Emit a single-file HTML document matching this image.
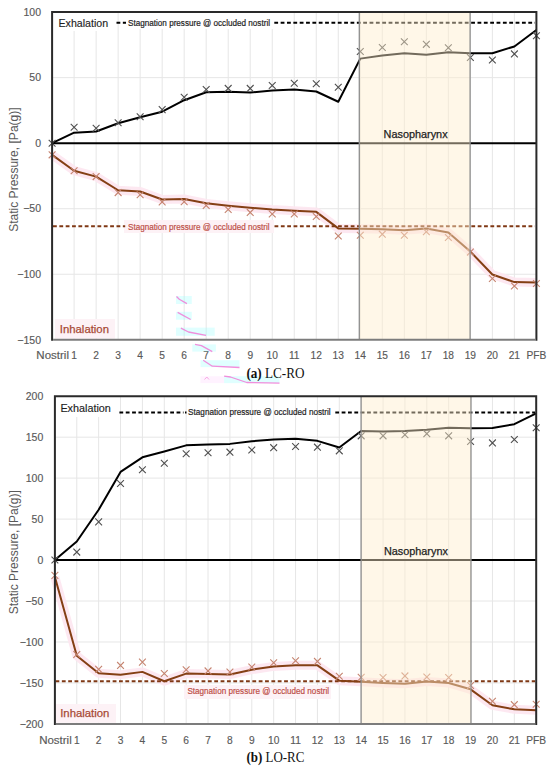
<!DOCTYPE html><html><head><meta charset="utf-8"><style>html,body{margin:0;padding:0;background:#fff;}svg{display:block;}</style></head><body>
<svg width="550" height="769" viewBox="0 0 550 769">
<rect width="550" height="769" fill="#fff"/>
<line x1="74.11" y1="12.1" x2="74.11" y2="339.8" stroke="#e6e6e6" stroke-width="1"/>
<line x1="96.13" y1="12.1" x2="96.13" y2="339.8" stroke="#e6e6e6" stroke-width="1"/>
<line x1="118.14" y1="12.1" x2="118.14" y2="339.8" stroke="#e6e6e6" stroke-width="1"/>
<line x1="140.15" y1="12.1" x2="140.15" y2="339.8" stroke="#e6e6e6" stroke-width="1"/>
<line x1="162.17" y1="12.1" x2="162.17" y2="339.8" stroke="#e6e6e6" stroke-width="1"/>
<line x1="184.18" y1="12.1" x2="184.18" y2="339.8" stroke="#e6e6e6" stroke-width="1"/>
<line x1="206.2" y1="12.1" x2="206.2" y2="339.8" stroke="#e6e6e6" stroke-width="1"/>
<line x1="228.21" y1="12.1" x2="228.21" y2="339.8" stroke="#e6e6e6" stroke-width="1"/>
<line x1="250.22" y1="12.1" x2="250.22" y2="339.8" stroke="#e6e6e6" stroke-width="1"/>
<line x1="272.24" y1="12.1" x2="272.24" y2="339.8" stroke="#e6e6e6" stroke-width="1"/>
<line x1="294.25" y1="12.1" x2="294.25" y2="339.8" stroke="#e6e6e6" stroke-width="1"/>
<line x1="316.26" y1="12.1" x2="316.26" y2="339.8" stroke="#e6e6e6" stroke-width="1"/>
<line x1="338.28" y1="12.1" x2="338.28" y2="339.8" stroke="#e6e6e6" stroke-width="1"/>
<line x1="360.29" y1="12.1" x2="360.29" y2="339.8" stroke="#e6e6e6" stroke-width="1"/>
<line x1="382.3" y1="12.1" x2="382.3" y2="339.8" stroke="#e6e6e6" stroke-width="1"/>
<line x1="404.32" y1="12.1" x2="404.32" y2="339.8" stroke="#e6e6e6" stroke-width="1"/>
<line x1="426.33" y1="12.1" x2="426.33" y2="339.8" stroke="#e6e6e6" stroke-width="1"/>
<line x1="448.35" y1="12.1" x2="448.35" y2="339.8" stroke="#e6e6e6" stroke-width="1"/>
<line x1="470.36" y1="12.1" x2="470.36" y2="339.8" stroke="#e6e6e6" stroke-width="1"/>
<line x1="492.37" y1="12.1" x2="492.37" y2="339.8" stroke="#e6e6e6" stroke-width="1"/>
<line x1="514.39" y1="12.1" x2="514.39" y2="339.8" stroke="#e6e6e6" stroke-width="1"/>
<line x1="52.1" y1="77.64" x2="536.4" y2="77.64" stroke="#e6e6e6" stroke-width="1"/>
<line x1="52.1" y1="208.72" x2="536.4" y2="208.72" stroke="#e6e6e6" stroke-width="1"/>
<line x1="52.1" y1="274.26" x2="536.4" y2="274.26" stroke="#e6e6e6" stroke-width="1"/>
<rect x="53" y="13" width="62" height="18" fill="#fff"/>
<rect x="126" y="13" width="147" height="16" fill="#fff"/>
<rect x="124" y="220" width="150" height="13" fill="#fdf2f6"/>
<rect x="55" y="319" width="60" height="19.6" fill="#fdf2f6"/>
<polyline points="52.1,154.85 74.11,170.71 96.13,176.61 118.14,190.24 140.15,191.55 162.17,199.54 184.18,199.02 206.2,203.35 228.21,205.71 250.22,207.8 272.24,209.51 294.25,210.69 316.26,211.87 338.28,228.38 360.29,228.64 382.3,229.17 404.32,230.22 426.33,228.51 448.35,232.58 470.36,251.58 492.37,274.52 514.39,282.12 536.4,282.52" fill="none" stroke="#fde6ef" stroke-width="9" stroke-linejoin="round" stroke-linecap="butt" opacity="0.9"/>
<line x1="52.1" y1="143.18" x2="536.4" y2="143.18" stroke="#000" stroke-width="2"/>
<line x1="116.5" y1="22.85" x2="126" y2="22.85" stroke="#000" stroke-width="2" stroke-dasharray="3.8 2.55"/>
<line x1="274.3" y1="22.85" x2="535" y2="22.85" stroke="#000" stroke-width="2" stroke-dasharray="3.8 2.55"/>
<line x1="53" y1="226.28" x2="125.2" y2="226.28" stroke="#7f3814" stroke-width="2" stroke-dasharray="3.8 2.55"/>
<line x1="274.5" y1="226.28" x2="535" y2="226.28" stroke="#7f3814" stroke-width="2" stroke-dasharray="3.8 2.55"/>
<polyline points="52.1,143.18 74.11,132.69 96.13,131.51 118.14,123.26 140.15,117.23 162.17,111.72 184.18,100.19 206.2,92.19 228.21,91.8 250.22,92.58 272.24,90.49 294.25,89.44 316.26,91.53 338.28,101.76 360.29,58.63 382.3,55.49 404.32,53.26 426.33,54.83 448.35,52.21 470.36,53.26 492.37,53.26 514.39,46.44 536.4,29.93" fill="none" stroke="#000" stroke-width="2.0" stroke-linejoin="round" stroke-linecap="butt" />
<path d="M48.7 139.78L55.5 146.58M48.7 146.58L55.5 139.78" stroke="#4f4f4f" stroke-width="1.1" fill="none"/>
<path d="M70.71 123.79L77.51 130.59M70.71 130.59L77.51 123.79" stroke="#4f4f4f" stroke-width="1.1" fill="none"/>
<path d="M92.73 124.84L99.53 131.64M92.73 131.64L99.53 124.84" stroke="#4f4f4f" stroke-width="1.1" fill="none"/>
<path d="M114.74 119.33L121.54 126.13M114.74 126.13L121.54 119.33" stroke="#4f4f4f" stroke-width="1.1" fill="none"/>
<path d="M136.75 113.3L143.55 120.1M136.75 120.1L143.55 113.3" stroke="#4f4f4f" stroke-width="1.1" fill="none"/>
<path d="M158.77 106.22L165.57 113.02M158.77 113.02L165.57 106.22" stroke="#4f4f4f" stroke-width="1.1" fill="none"/>
<path d="M180.78 93.9L187.58 100.7M180.78 100.7L187.58 93.9" stroke="#4f4f4f" stroke-width="1.1" fill="none"/>
<path d="M202.8 86.04L209.6 92.84M202.8 92.84L209.6 86.04" stroke="#4f4f4f" stroke-width="1.1" fill="none"/>
<path d="M224.81 84.99L231.61 91.79M224.81 91.79L231.61 84.99" stroke="#4f4f4f" stroke-width="1.1" fill="none"/>
<path d="M246.82 84.99L253.62 91.79M246.82 91.79L253.62 84.99" stroke="#4f4f4f" stroke-width="1.1" fill="none"/>
<path d="M268.84 82.1L275.64 88.9M268.84 88.9L275.64 82.1" stroke="#4f4f4f" stroke-width="1.1" fill="none"/>
<path d="M290.85 79.88L297.65 86.68M290.85 86.68L297.65 79.88" stroke="#4f4f4f" stroke-width="1.1" fill="none"/>
<path d="M312.86 80.27L319.66 87.07M312.86 87.07L319.66 80.27" stroke="#4f4f4f" stroke-width="1.1" fill="none"/>
<path d="M334.88 83.81L341.68 90.61M334.88 90.61L341.68 83.81" stroke="#4f4f4f" stroke-width="1.1" fill="none"/>
<path d="M356.89 48.02L363.69 54.82M356.89 54.82L363.69 48.02" stroke="#4f4f4f" stroke-width="1.1" fill="none"/>
<path d="M378.9 44.09L385.7 50.89M378.9 50.89L385.7 44.09" stroke="#4f4f4f" stroke-width="1.1" fill="none"/>
<path d="M400.92 38.32L407.72 45.12M400.92 45.12L407.72 38.32" stroke="#4f4f4f" stroke-width="1.1" fill="none"/>
<path d="M422.93 40.95L429.73 47.75M422.93 47.75L429.73 40.95" stroke="#4f4f4f" stroke-width="1.1" fill="none"/>
<path d="M444.95 44.35L451.75 51.15M444.95 51.15L451.75 44.35" stroke="#4f4f4f" stroke-width="1.1" fill="none"/>
<path d="M466.96 54.18L473.76 60.98M466.96 60.98L473.76 54.18" stroke="#4f4f4f" stroke-width="1.1" fill="none"/>
<path d="M488.97 56.54L495.77 63.34M488.97 63.34L495.77 56.54" stroke="#4f4f4f" stroke-width="1.1" fill="none"/>
<path d="M510.99 50.51L517.79 57.31M510.99 57.31L517.79 50.51" stroke="#4f4f4f" stroke-width="1.1" fill="none"/>
<path d="M533 32.43L539.8 39.23M533 39.23L539.8 32.43" stroke="#4f4f4f" stroke-width="1.1" fill="none"/>
<polyline points="52.1,154.85 74.11,170.71 96.13,176.61 118.14,190.24 140.15,191.55 162.17,199.54 184.18,199.02 206.2,203.35 228.21,205.71 250.22,207.8 272.24,209.51 294.25,210.69 316.26,211.87 338.28,228.38 360.29,228.64 382.3,229.17 404.32,230.22 426.33,228.51 448.35,232.58 470.36,251.58 492.37,274.52 514.39,282.12 536.4,282.52" fill="none" stroke="#843f14" stroke-width="2.0" stroke-linejoin="round" stroke-linecap="butt" />
<path d="M48.7 151.45L55.5 158.25M48.7 158.25L55.5 151.45" stroke="#c58470" stroke-width="1.1" fill="none"/>
<path d="M70.71 167.31L77.51 174.11M70.71 174.11L77.51 167.31" stroke="#c58470" stroke-width="1.1" fill="none"/>
<path d="M92.73 173.21L99.53 180.01M92.73 180.01L99.53 173.21" stroke="#c58470" stroke-width="1.1" fill="none"/>
<path d="M114.74 189.2L121.54 196M114.74 196L121.54 189.2" stroke="#c58470" stroke-width="1.1" fill="none"/>
<path d="M136.75 191.29L143.55 198.09M136.75 198.09L143.55 191.29" stroke="#c58470" stroke-width="1.1" fill="none"/>
<path d="M158.77 198.5L165.57 205.3M158.77 205.3L165.57 198.5" stroke="#c58470" stroke-width="1.1" fill="none"/>
<path d="M180.78 198.37L187.58 205.17M180.78 205.17L187.58 198.37" stroke="#c58470" stroke-width="1.1" fill="none"/>
<path d="M202.8 202.17L209.6 208.97M202.8 208.97L209.6 202.17" stroke="#c58470" stroke-width="1.1" fill="none"/>
<path d="M224.81 206.11L231.61 212.91M224.81 212.91L231.61 206.11" stroke="#c58470" stroke-width="1.1" fill="none"/>
<path d="M246.82 208.99L253.62 215.79M246.82 215.79L253.62 208.99" stroke="#c58470" stroke-width="1.1" fill="none"/>
<path d="M268.84 210.56L275.64 217.36M268.84 217.36L275.64 210.56" stroke="#c58470" stroke-width="1.1" fill="none"/>
<path d="M290.85 210.56L297.65 217.36M290.85 217.36L297.65 210.56" stroke="#c58470" stroke-width="1.1" fill="none"/>
<path d="M312.86 213.18L319.66 219.98M312.86 219.98L319.66 213.18" stroke="#c58470" stroke-width="1.1" fill="none"/>
<path d="M334.88 232.58L341.68 239.38M334.88 239.38L341.68 232.58" stroke="#c58470" stroke-width="1.1" fill="none"/>
<path d="M356.89 231.8L363.69 238.6M356.89 238.6L363.69 231.8" stroke="#c58470" stroke-width="1.1" fill="none"/>
<path d="M378.9 230.75L385.7 237.55M378.9 237.55L385.7 230.75" stroke="#c58470" stroke-width="1.1" fill="none"/>
<path d="M400.92 231.8L407.72 238.6M400.92 238.6L407.72 231.8" stroke="#c58470" stroke-width="1.1" fill="none"/>
<path d="M422.93 228.39L429.73 235.19M422.93 235.19L429.73 228.39" stroke="#c58470" stroke-width="1.1" fill="none"/>
<path d="M444.95 234.03L451.75 240.83M444.95 240.83L451.75 234.03" stroke="#c58470" stroke-width="1.1" fill="none"/>
<path d="M466.96 248.71L473.76 255.51M466.96 255.51L473.76 248.71" stroke="#c58470" stroke-width="1.1" fill="none"/>
<path d="M488.97 275.05L495.77 281.85M488.97 281.85L495.77 275.05" stroke="#c58470" stroke-width="1.1" fill="none"/>
<path d="M510.99 282.66L517.79 289.46M510.99 289.46L517.79 282.66" stroke="#c58470" stroke-width="1.1" fill="none"/>
<path d="M533 280.04L539.8 286.84M533 286.84L539.8 280.04" stroke="#c58470" stroke-width="1.1" fill="none"/>
<rect x="359.3" y="12.1" width="110.8" height="327.7" fill="#ffeecc" fill-opacity="0.45"/>
<line x1="359.3" y1="12.1" x2="359.3" y2="339.8" stroke="#8e8e8e" stroke-width="1.3"/>
<line x1="470.1" y1="12.1" x2="470.1" y2="339.8" stroke="#8e8e8e" stroke-width="1.3"/>
<path d="M52.1 339.8V12.1H536.4V339.8" fill="none" stroke="#2a2a2a" stroke-width="2" stroke-linecap="square"/>
<line x1="53.1" y1="339.8" x2="535.4" y2="339.8" stroke="#7c7c7c" stroke-width="2"/>
<text x="58.5" y="27.1" font-family='"Liberation Sans", sans-serif' font-size="11.2" fill="#1e1e1e" text-anchor="start" stroke="#1e1e1e" stroke-width="0.15" textLength="49.6" lengthAdjust="spacingAndGlyphs" >Exhalation</text>
<text x="128" y="25.6" font-family='"Liberation Sans", sans-serif' font-size="8.9" fill="#1e1e1e" text-anchor="start" stroke="#1e1e1e" stroke-width="0.2" textLength="142" lengthAdjust="spacingAndGlyphs" >Stagnation pressure @ occluded nostril</text>
<text x="128" y="230.2" font-family='"Liberation Sans", sans-serif' font-size="8.9" fill="#bd4f48" text-anchor="start" stroke="#bd4f48" stroke-width="0.2" textLength="141.6" lengthAdjust="spacingAndGlyphs" >Stagnation pressure @ occluded nostril</text>
<text x="59.8" y="333.3" font-family='"Liberation Sans", sans-serif' font-size="11.2" fill="#a84a35" text-anchor="start" stroke="#a84a35" stroke-width="0.25" textLength="49.2" lengthAdjust="spacingAndGlyphs" >Inhalation</text>
<text x="383.6" y="138.3" font-family='"Liberation Sans", sans-serif' font-size="10.4" fill="#1e1e1e" text-anchor="start" stroke="#1e1e1e" stroke-width="0.25" textLength="64" lengthAdjust="spacingAndGlyphs" >Nasopharynx</text>
<text x="41" y="15.8" font-family='"Liberation Sans", sans-serif' font-size="10.5" fill="#595959" text-anchor="end" stroke="#595959" stroke-width="0.15" >100</text>
<text x="41" y="81.34" font-family='"Liberation Sans", sans-serif' font-size="10.5" fill="#595959" text-anchor="end" stroke="#595959" stroke-width="0.15" >50</text>
<text x="41" y="146.88" font-family='"Liberation Sans", sans-serif' font-size="10.5" fill="#595959" text-anchor="end" stroke="#595959" stroke-width="0.15" >0</text>
<text x="41" y="212.42" font-family='"Liberation Sans", sans-serif' font-size="10.5" fill="#595959" text-anchor="end" stroke="#595959" stroke-width="0.15" >−50</text>
<text x="41" y="277.96" font-family='"Liberation Sans", sans-serif' font-size="10.5" fill="#595959" text-anchor="end" stroke="#595959" stroke-width="0.15" >−100</text>
<text x="41" y="343.5" font-family='"Liberation Sans", sans-serif' font-size="10.5" fill="#595959" text-anchor="end" stroke="#595959" stroke-width="0.15" >−150</text>
<text x="52.65" y="359.3" font-family='"Liberation Sans", sans-serif' font-size="10.2" fill="#595959" text-anchor="middle" stroke="#595959" stroke-width="0.15" textLength="32.6" lengthAdjust="spacingAndGlyphs" >Nostril</text>
<text x="74.11" y="359.3" font-family='"Liberation Sans", sans-serif' font-size="10.2" fill="#595959" text-anchor="middle" stroke="#595959" stroke-width="0.15" >1</text>
<text x="96.13" y="359.3" font-family='"Liberation Sans", sans-serif' font-size="10.2" fill="#595959" text-anchor="middle" stroke="#595959" stroke-width="0.15" >2</text>
<text x="118.14" y="359.3" font-family='"Liberation Sans", sans-serif' font-size="10.2" fill="#595959" text-anchor="middle" stroke="#595959" stroke-width="0.15" >3</text>
<text x="140.15" y="359.3" font-family='"Liberation Sans", sans-serif' font-size="10.2" fill="#595959" text-anchor="middle" stroke="#595959" stroke-width="0.15" >4</text>
<text x="162.17" y="359.3" font-family='"Liberation Sans", sans-serif' font-size="10.2" fill="#595959" text-anchor="middle" stroke="#595959" stroke-width="0.15" >5</text>
<text x="184.18" y="359.3" font-family='"Liberation Sans", sans-serif' font-size="10.2" fill="#595959" text-anchor="middle" stroke="#595959" stroke-width="0.15" >6</text>
<text x="206.2" y="359.3" font-family='"Liberation Sans", sans-serif' font-size="10.2" fill="#595959" text-anchor="middle" stroke="#595959" stroke-width="0.15" >7</text>
<text x="228.21" y="359.3" font-family='"Liberation Sans", sans-serif' font-size="10.2" fill="#595959" text-anchor="middle" stroke="#595959" stroke-width="0.15" >8</text>
<text x="250.22" y="359.3" font-family='"Liberation Sans", sans-serif' font-size="10.2" fill="#595959" text-anchor="middle" stroke="#595959" stroke-width="0.15" >9</text>
<text x="272.24" y="359.3" font-family='"Liberation Sans", sans-serif' font-size="10.2" fill="#595959" text-anchor="middle" stroke="#595959" stroke-width="0.15" >10</text>
<text x="294.25" y="359.3" font-family='"Liberation Sans", sans-serif' font-size="10.2" fill="#595959" text-anchor="middle" stroke="#595959" stroke-width="0.15" >11</text>
<text x="316.26" y="359.3" font-family='"Liberation Sans", sans-serif' font-size="10.2" fill="#595959" text-anchor="middle" stroke="#595959" stroke-width="0.15" >12</text>
<text x="338.28" y="359.3" font-family='"Liberation Sans", sans-serif' font-size="10.2" fill="#595959" text-anchor="middle" stroke="#595959" stroke-width="0.15" >13</text>
<text x="360.29" y="359.3" font-family='"Liberation Sans", sans-serif' font-size="10.2" fill="#595959" text-anchor="middle" stroke="#595959" stroke-width="0.15" >14</text>
<text x="382.3" y="359.3" font-family='"Liberation Sans", sans-serif' font-size="10.2" fill="#595959" text-anchor="middle" stroke="#595959" stroke-width="0.15" >15</text>
<text x="404.32" y="359.3" font-family='"Liberation Sans", sans-serif' font-size="10.2" fill="#595959" text-anchor="middle" stroke="#595959" stroke-width="0.15" >16</text>
<text x="426.33" y="359.3" font-family='"Liberation Sans", sans-serif' font-size="10.2" fill="#595959" text-anchor="middle" stroke="#595959" stroke-width="0.15" >17</text>
<text x="448.35" y="359.3" font-family='"Liberation Sans", sans-serif' font-size="10.2" fill="#595959" text-anchor="middle" stroke="#595959" stroke-width="0.15" >18</text>
<text x="470.36" y="359.3" font-family='"Liberation Sans", sans-serif' font-size="10.2" fill="#595959" text-anchor="middle" stroke="#595959" stroke-width="0.15" >19</text>
<text x="492.37" y="359.3" font-family='"Liberation Sans", sans-serif' font-size="10.2" fill="#595959" text-anchor="middle" stroke="#595959" stroke-width="0.15" >20</text>
<text x="514.39" y="359.3" font-family='"Liberation Sans", sans-serif' font-size="10.2" fill="#595959" text-anchor="middle" stroke="#595959" stroke-width="0.15" >21</text>
<text x="536.4" y="359.3" font-family='"Liberation Sans", sans-serif' font-size="10.2" fill="#595959" text-anchor="middle" stroke="#595959" stroke-width="0.15" >PFB</text>
<text x="0" y="0" transform="translate(18.4 169.6) rotate(-90)" font-family='"Liberation Sans", sans-serif' font-size="12.2" fill="#595959" text-anchor="middle" textLength="124.5" lengthAdjust="spacingAndGlyphs">Static Pressure, [Pa(g)]</text>
<line x1="76.78" y1="396.2" x2="76.78" y2="723.9" stroke="#e6e6e6" stroke-width="1"/>
<line x1="98.65" y1="396.2" x2="98.65" y2="723.9" stroke="#e6e6e6" stroke-width="1"/>
<line x1="120.53" y1="396.2" x2="120.53" y2="723.9" stroke="#e6e6e6" stroke-width="1"/>
<line x1="142.41" y1="396.2" x2="142.41" y2="723.9" stroke="#e6e6e6" stroke-width="1"/>
<line x1="164.29" y1="396.2" x2="164.29" y2="723.9" stroke="#e6e6e6" stroke-width="1"/>
<line x1="186.16" y1="396.2" x2="186.16" y2="723.9" stroke="#e6e6e6" stroke-width="1"/>
<line x1="208.04" y1="396.2" x2="208.04" y2="723.9" stroke="#e6e6e6" stroke-width="1"/>
<line x1="229.92" y1="396.2" x2="229.92" y2="723.9" stroke="#e6e6e6" stroke-width="1"/>
<line x1="251.8" y1="396.2" x2="251.8" y2="723.9" stroke="#e6e6e6" stroke-width="1"/>
<line x1="273.67" y1="396.2" x2="273.67" y2="723.9" stroke="#e6e6e6" stroke-width="1"/>
<line x1="295.55" y1="396.2" x2="295.55" y2="723.9" stroke="#e6e6e6" stroke-width="1"/>
<line x1="317.43" y1="396.2" x2="317.43" y2="723.9" stroke="#e6e6e6" stroke-width="1"/>
<line x1="339.3" y1="396.2" x2="339.3" y2="723.9" stroke="#e6e6e6" stroke-width="1"/>
<line x1="361.18" y1="396.2" x2="361.18" y2="723.9" stroke="#e6e6e6" stroke-width="1"/>
<line x1="383.06" y1="396.2" x2="383.06" y2="723.9" stroke="#e6e6e6" stroke-width="1"/>
<line x1="404.94" y1="396.2" x2="404.94" y2="723.9" stroke="#e6e6e6" stroke-width="1"/>
<line x1="426.81" y1="396.2" x2="426.81" y2="723.9" stroke="#e6e6e6" stroke-width="1"/>
<line x1="448.69" y1="396.2" x2="448.69" y2="723.9" stroke="#e6e6e6" stroke-width="1"/>
<line x1="470.57" y1="396.2" x2="470.57" y2="723.9" stroke="#e6e6e6" stroke-width="1"/>
<line x1="492.45" y1="396.2" x2="492.45" y2="723.9" stroke="#e6e6e6" stroke-width="1"/>
<line x1="514.32" y1="396.2" x2="514.32" y2="723.9" stroke="#e6e6e6" stroke-width="1"/>
<line x1="54.9" y1="437.16" x2="536.2" y2="437.16" stroke="#e6e6e6" stroke-width="1"/>
<line x1="54.9" y1="478.12" x2="536.2" y2="478.12" stroke="#e6e6e6" stroke-width="1"/>
<line x1="54.9" y1="519.09" x2="536.2" y2="519.09" stroke="#e6e6e6" stroke-width="1"/>
<line x1="54.9" y1="601.01" x2="536.2" y2="601.01" stroke="#e6e6e6" stroke-width="1"/>
<line x1="54.9" y1="641.98" x2="536.2" y2="641.98" stroke="#e6e6e6" stroke-width="1"/>
<line x1="54.9" y1="682.94" x2="536.2" y2="682.94" stroke="#e6e6e6" stroke-width="1"/>
<rect x="56" y="397" width="60" height="20" fill="#fff"/>
<rect x="184" y="685" width="147" height="14" fill="#fdf2f6"/>
<rect x="56" y="704" width="60" height="18.8" fill="#fdf2f6"/>
<polyline points="54.9,577.09 76.78,655.82 98.65,673.19 120.53,674.75 142.41,671.88 164.29,681.22 186.16,673.6 208.04,674.01 229.92,674.5 251.8,669.67 273.67,666.39 295.55,665.32 317.43,665.32 339.3,680.64 361.18,681.79 383.06,682.94 404.94,683.67 426.81,681.46 448.69,682.94 470.57,689.33 492.45,705.3 514.32,709.32 536.2,710.3" fill="none" stroke="#fde6ef" stroke-width="9" stroke-linejoin="round" stroke-linecap="butt" opacity="0.9"/>
<line x1="54.9" y1="560.05" x2="536.2" y2="560.05" stroke="#000" stroke-width="2"/>
<line x1="119.4" y1="412.58" x2="183.5" y2="412.58" stroke="#000" stroke-width="2" stroke-dasharray="3.8 2.55"/>
<line x1="185" y1="412.58" x2="186.5" y2="412.58" stroke="#000" stroke-width="2" stroke-dasharray="3.8 2.55"/>
<line x1="335.3" y1="412.58" x2="535" y2="412.58" stroke="#000" stroke-width="2" stroke-dasharray="3.8 2.55"/>
<line x1="55.5" y1="681.3" x2="535" y2="681.3" stroke="#7f3814" stroke-width="2" stroke-dasharray="3.8 2.55"/>
<polyline points="54.9,560.05 76.78,541.45 98.65,509.75 120.53,471.9 142.41,457.32 164.29,451.58 186.16,445.36 208.04,444.54 229.92,443.88 251.8,441.26 273.67,439.54 295.55,438.64 317.43,440.85 339.3,447.49 361.18,431.02 383.06,431.43 404.94,431.02 426.81,429.79 448.69,427.74 470.57,428.23 492.45,427.99 514.32,424.22 536.2,413.4" fill="none" stroke="#000" stroke-width="2.0" stroke-linejoin="round" stroke-linecap="butt" />
<path d="M51.5 556.65L58.3 563.45M51.5 563.45L58.3 556.65" stroke="#4f4f4f" stroke-width="1.1" fill="none"/>
<path d="M73.38 548.7L80.18 555.5M73.38 555.5L80.18 548.7" stroke="#4f4f4f" stroke-width="1.1" fill="none"/>
<path d="M95.25 518.47L102.05 525.27M95.25 525.27L102.05 518.47" stroke="#4f4f4f" stroke-width="1.1" fill="none"/>
<path d="M117.13 480.13L123.93 486.93M117.13 486.93L123.93 480.13" stroke="#4f4f4f" stroke-width="1.1" fill="none"/>
<path d="M139.01 466.37L145.81 473.17M139.01 473.17L145.81 466.37" stroke="#4f4f4f" stroke-width="1.1" fill="none"/>
<path d="M160.89 459.81L167.69 466.61M160.89 466.61L167.69 459.81" stroke="#4f4f4f" stroke-width="1.1" fill="none"/>
<path d="M182.76 450.39L189.56 457.19M182.76 457.19L189.56 450.39" stroke="#4f4f4f" stroke-width="1.1" fill="none"/>
<path d="M204.64 449.41L211.44 456.21M204.64 456.21L211.44 449.41" stroke="#4f4f4f" stroke-width="1.1" fill="none"/>
<path d="M226.52 448.75L233.32 455.55M226.52 455.55L233.32 448.75" stroke="#4f4f4f" stroke-width="1.1" fill="none"/>
<path d="M248.4 446.54L255.2 453.34M248.4 453.34L255.2 446.54" stroke="#4f4f4f" stroke-width="1.1" fill="none"/>
<path d="M270.27 444.25L277.07 451.05M270.27 451.05L277.07 444.25" stroke="#4f4f4f" stroke-width="1.1" fill="none"/>
<path d="M292.15 443.1L298.95 449.9M292.15 449.9L298.95 443.1" stroke="#4f4f4f" stroke-width="1.1" fill="none"/>
<path d="M314.03 443.76L320.83 450.56M314.03 450.56L320.83 443.76" stroke="#4f4f4f" stroke-width="1.1" fill="none"/>
<path d="M335.9 447.44L342.7 454.24M335.9 454.24L342.7 447.44" stroke="#4f4f4f" stroke-width="1.1" fill="none"/>
<path d="M357.78 432.45L364.58 439.25M357.78 439.25L364.58 432.45" stroke="#4f4f4f" stroke-width="1.1" fill="none"/>
<path d="M379.66 432.45L386.46 439.25M379.66 439.25L386.46 432.45" stroke="#4f4f4f" stroke-width="1.1" fill="none"/>
<path d="M401.54 431.39L408.34 438.19M401.54 438.19L408.34 431.39" stroke="#4f4f4f" stroke-width="1.1" fill="none"/>
<path d="M423.41 430.24L430.21 437.04M423.41 437.04L430.21 430.24" stroke="#4f4f4f" stroke-width="1.1" fill="none"/>
<path d="M445.29 432.45L452.09 439.25M445.29 439.25L452.09 432.45" stroke="#4f4f4f" stroke-width="1.1" fill="none"/>
<path d="M467.17 438.02L473.97 444.82M467.17 444.82L473.97 438.02" stroke="#4f4f4f" stroke-width="1.1" fill="none"/>
<path d="M489.05 439.5L495.85 446.3M489.05 446.3L495.85 439.5" stroke="#4f4f4f" stroke-width="1.1" fill="none"/>
<path d="M510.92 436.06L517.72 442.86M510.92 442.86L517.72 436.06" stroke="#4f4f4f" stroke-width="1.1" fill="none"/>
<path d="M532.8 424.42L539.6 431.22M532.8 431.22L539.6 424.42" stroke="#4f4f4f" stroke-width="1.1" fill="none"/>
<polyline points="54.9,577.09 76.78,655.82 98.65,673.19 120.53,674.75 142.41,671.88 164.29,681.22 186.16,673.6 208.04,674.01 229.92,674.5 251.8,669.67 273.67,666.39 295.55,665.32 317.43,665.32 339.3,680.64 361.18,681.79 383.06,682.94 404.94,683.67 426.81,681.46 448.69,682.94 470.57,689.33 492.45,705.3 514.32,709.32 536.2,710.3" fill="none" stroke="#843f14" stroke-width="2.0" stroke-linejoin="round" stroke-linecap="butt" />
<path d="M51.5 571.97L58.3 578.77M51.5 578.77L58.3 571.97" stroke="#c58470" stroke-width="1.1" fill="none"/>
<path d="M73.38 651.11L80.18 657.91M73.38 657.91L80.18 651.11" stroke="#c58470" stroke-width="1.1" fill="none"/>
<path d="M95.25 665.94L102.05 672.74M95.25 672.74L102.05 665.94" stroke="#c58470" stroke-width="1.1" fill="none"/>
<path d="M117.13 662.01L123.93 668.81M117.13 668.81L123.93 662.01" stroke="#c58470" stroke-width="1.1" fill="none"/>
<path d="M139.01 658.73L145.81 665.53M139.01 665.53L145.81 658.73" stroke="#c58470" stroke-width="1.1" fill="none"/>
<path d="M160.89 670.03L167.69 676.83M160.89 676.83L167.69 670.03" stroke="#c58470" stroke-width="1.1" fill="none"/>
<path d="M182.76 666.43L189.56 673.23M182.76 673.23L189.56 666.43" stroke="#c58470" stroke-width="1.1" fill="none"/>
<path d="M204.64 667.49L211.44 674.29M204.64 674.29L211.44 667.49" stroke="#c58470" stroke-width="1.1" fill="none"/>
<path d="M226.52 668.64L233.32 675.44M226.52 675.44L233.32 668.64" stroke="#c58470" stroke-width="1.1" fill="none"/>
<path d="M248.4 663.56L255.2 670.36M248.4 670.36L255.2 663.56" stroke="#c58470" stroke-width="1.1" fill="none"/>
<path d="M270.27 659.3L277.07 666.1M270.27 666.1L277.07 659.3" stroke="#c58470" stroke-width="1.1" fill="none"/>
<path d="M292.15 657.42L298.95 664.22M292.15 664.22L298.95 657.42" stroke="#c58470" stroke-width="1.1" fill="none"/>
<path d="M314.03 657.99L320.83 664.79M314.03 664.79L320.83 657.99" stroke="#c58470" stroke-width="1.1" fill="none"/>
<path d="M335.9 672.82L342.7 679.62M335.9 679.62L342.7 672.82" stroke="#c58470" stroke-width="1.1" fill="none"/>
<path d="M357.78 673.97L364.58 680.77M357.78 680.77L364.58 673.97" stroke="#c58470" stroke-width="1.1" fill="none"/>
<path d="M379.66 674.13L386.46 680.93M379.66 680.93L386.46 674.13" stroke="#c58470" stroke-width="1.1" fill="none"/>
<path d="M401.54 672.49L408.34 679.29M401.54 679.29L408.34 672.49" stroke="#c58470" stroke-width="1.1" fill="none"/>
<path d="M423.41 673.64L430.21 680.44M423.41 680.44L430.21 673.64" stroke="#c58470" stroke-width="1.1" fill="none"/>
<path d="M445.29 674.13L452.09 680.93M445.29 680.93L452.09 674.13" stroke="#c58470" stroke-width="1.1" fill="none"/>
<path d="M467.17 682.08L473.97 688.88M467.17 688.88L473.97 682.08" stroke="#c58470" stroke-width="1.1" fill="none"/>
<path d="M489.05 697.89L495.85 704.69M489.05 704.69L495.85 697.89" stroke="#c58470" stroke-width="1.1" fill="none"/>
<path d="M510.92 701.25L517.72 708.05M510.92 708.05L517.72 701.25" stroke="#c58470" stroke-width="1.1" fill="none"/>
<path d="M532.8 700.84L539.6 707.64M532.8 707.64L539.6 700.84" stroke="#c58470" stroke-width="1.1" fill="none"/>
<rect x="361.1" y="396.2" width="109.9" height="327.7" fill="#ffeecc" fill-opacity="0.45"/>
<line x1="361.1" y1="396.2" x2="361.1" y2="723.9" stroke="#8e8e8e" stroke-width="1.3"/>
<line x1="471" y1="396.2" x2="471" y2="723.9" stroke="#8e8e8e" stroke-width="1.3"/>
<path d="M54.9 723.9V396.2H536.2V723.9" fill="none" stroke="#2a2a2a" stroke-width="2" stroke-linecap="square"/>
<line x1="55.9" y1="723.9" x2="535.2" y2="723.9" stroke="#7c7c7c" stroke-width="2"/>
<text x="60.4" y="411.9" font-family='"Liberation Sans", sans-serif' font-size="11.2" fill="#1e1e1e" text-anchor="start" stroke="#1e1e1e" stroke-width="0.15" textLength="50.5" lengthAdjust="spacingAndGlyphs" >Exhalation</text>
<text x="188.1" y="414.6" font-family='"Liberation Sans", sans-serif' font-size="8.9" fill="#1e1e1e" text-anchor="start" stroke="#1e1e1e" stroke-width="0.2" textLength="142.6" lengthAdjust="spacingAndGlyphs" >Stagnation pressure @ occluded nostril</text>
<text x="187.4" y="694.1" font-family='"Liberation Sans", sans-serif' font-size="8.9" fill="#bd4f48" text-anchor="start" stroke="#bd4f48" stroke-width="0.2" textLength="141.6" lengthAdjust="spacingAndGlyphs" >Stagnation pressure @ occluded nostril</text>
<text x="60.2" y="716.9" font-family='"Liberation Sans", sans-serif' font-size="11.2" fill="#a84a35" text-anchor="start" stroke="#a84a35" stroke-width="0.25" textLength="49.2" lengthAdjust="spacingAndGlyphs" >Inhalation</text>
<text x="383.9" y="554.5" font-family='"Liberation Sans", sans-serif' font-size="10.4" fill="#1e1e1e" text-anchor="start" stroke="#1e1e1e" stroke-width="0.25" textLength="64" lengthAdjust="spacingAndGlyphs" >Nasopharynx</text>
<text x="43.3" y="399.9" font-family='"Liberation Sans", sans-serif' font-size="10.5" fill="#595959" text-anchor="end" stroke="#595959" stroke-width="0.15" >200</text>
<text x="43.3" y="440.86" font-family='"Liberation Sans", sans-serif' font-size="10.5" fill="#595959" text-anchor="end" stroke="#595959" stroke-width="0.15" >150</text>
<text x="43.3" y="481.82" font-family='"Liberation Sans", sans-serif' font-size="10.5" fill="#595959" text-anchor="end" stroke="#595959" stroke-width="0.15" >100</text>
<text x="43.3" y="522.79" font-family='"Liberation Sans", sans-serif' font-size="10.5" fill="#595959" text-anchor="end" stroke="#595959" stroke-width="0.15" >50</text>
<text x="43.3" y="563.75" font-family='"Liberation Sans", sans-serif' font-size="10.5" fill="#595959" text-anchor="end" stroke="#595959" stroke-width="0.15" >0</text>
<text x="43.3" y="604.71" font-family='"Liberation Sans", sans-serif' font-size="10.5" fill="#595959" text-anchor="end" stroke="#595959" stroke-width="0.15" >−50</text>
<text x="43.3" y="645.68" font-family='"Liberation Sans", sans-serif' font-size="10.5" fill="#595959" text-anchor="end" stroke="#595959" stroke-width="0.15" >−100</text>
<text x="43.3" y="686.64" font-family='"Liberation Sans", sans-serif' font-size="10.5" fill="#595959" text-anchor="end" stroke="#595959" stroke-width="0.15" >−150</text>
<text x="43.3" y="727.6" font-family='"Liberation Sans", sans-serif' font-size="10.5" fill="#595959" text-anchor="end" stroke="#595959" stroke-width="0.15" >−200</text>
<text x="55.45" y="743.5" font-family='"Liberation Sans", sans-serif' font-size="10.2" fill="#595959" text-anchor="middle" stroke="#595959" stroke-width="0.15" textLength="32.6" lengthAdjust="spacingAndGlyphs" >Nostril</text>
<text x="76.78" y="743.5" font-family='"Liberation Sans", sans-serif' font-size="10.2" fill="#595959" text-anchor="middle" stroke="#595959" stroke-width="0.15" >1</text>
<text x="98.65" y="743.5" font-family='"Liberation Sans", sans-serif' font-size="10.2" fill="#595959" text-anchor="middle" stroke="#595959" stroke-width="0.15" >2</text>
<text x="120.53" y="743.5" font-family='"Liberation Sans", sans-serif' font-size="10.2" fill="#595959" text-anchor="middle" stroke="#595959" stroke-width="0.15" >3</text>
<text x="142.41" y="743.5" font-family='"Liberation Sans", sans-serif' font-size="10.2" fill="#595959" text-anchor="middle" stroke="#595959" stroke-width="0.15" >4</text>
<text x="164.29" y="743.5" font-family='"Liberation Sans", sans-serif' font-size="10.2" fill="#595959" text-anchor="middle" stroke="#595959" stroke-width="0.15" >5</text>
<text x="186.16" y="743.5" font-family='"Liberation Sans", sans-serif' font-size="10.2" fill="#595959" text-anchor="middle" stroke="#595959" stroke-width="0.15" >6</text>
<text x="208.04" y="743.5" font-family='"Liberation Sans", sans-serif' font-size="10.2" fill="#595959" text-anchor="middle" stroke="#595959" stroke-width="0.15" >7</text>
<text x="229.92" y="743.5" font-family='"Liberation Sans", sans-serif' font-size="10.2" fill="#595959" text-anchor="middle" stroke="#595959" stroke-width="0.15" >8</text>
<text x="251.8" y="743.5" font-family='"Liberation Sans", sans-serif' font-size="10.2" fill="#595959" text-anchor="middle" stroke="#595959" stroke-width="0.15" >9</text>
<text x="273.67" y="743.5" font-family='"Liberation Sans", sans-serif' font-size="10.2" fill="#595959" text-anchor="middle" stroke="#595959" stroke-width="0.15" >10</text>
<text x="295.55" y="743.5" font-family='"Liberation Sans", sans-serif' font-size="10.2" fill="#595959" text-anchor="middle" stroke="#595959" stroke-width="0.15" >11</text>
<text x="317.43" y="743.5" font-family='"Liberation Sans", sans-serif' font-size="10.2" fill="#595959" text-anchor="middle" stroke="#595959" stroke-width="0.15" >12</text>
<text x="339.3" y="743.5" font-family='"Liberation Sans", sans-serif' font-size="10.2" fill="#595959" text-anchor="middle" stroke="#595959" stroke-width="0.15" >13</text>
<text x="361.18" y="743.5" font-family='"Liberation Sans", sans-serif' font-size="10.2" fill="#595959" text-anchor="middle" stroke="#595959" stroke-width="0.15" >14</text>
<text x="383.06" y="743.5" font-family='"Liberation Sans", sans-serif' font-size="10.2" fill="#595959" text-anchor="middle" stroke="#595959" stroke-width="0.15" >15</text>
<text x="404.94" y="743.5" font-family='"Liberation Sans", sans-serif' font-size="10.2" fill="#595959" text-anchor="middle" stroke="#595959" stroke-width="0.15" >16</text>
<text x="426.81" y="743.5" font-family='"Liberation Sans", sans-serif' font-size="10.2" fill="#595959" text-anchor="middle" stroke="#595959" stroke-width="0.15" >17</text>
<text x="448.69" y="743.5" font-family='"Liberation Sans", sans-serif' font-size="10.2" fill="#595959" text-anchor="middle" stroke="#595959" stroke-width="0.15" >18</text>
<text x="470.57" y="743.5" font-family='"Liberation Sans", sans-serif' font-size="10.2" fill="#595959" text-anchor="middle" stroke="#595959" stroke-width="0.15" >19</text>
<text x="492.45" y="743.5" font-family='"Liberation Sans", sans-serif' font-size="10.2" fill="#595959" text-anchor="middle" stroke="#595959" stroke-width="0.15" >20</text>
<text x="514.32" y="743.5" font-family='"Liberation Sans", sans-serif' font-size="10.2" fill="#595959" text-anchor="middle" stroke="#595959" stroke-width="0.15" >21</text>
<text x="536.2" y="743.5" font-family='"Liberation Sans", sans-serif' font-size="10.2" fill="#595959" text-anchor="middle" stroke="#595959" stroke-width="0.15" >PFB</text>
<text x="0" y="0" transform="translate(18 552.3) rotate(-90)" font-family='"Liberation Sans", sans-serif' font-size="12.2" fill="#595959" text-anchor="middle" textLength="124.1" lengthAdjust="spacingAndGlyphs">Static Pressure, [Pa(g)]</text>
<rect x="176" y="296" width="15.8" height="8" fill="#9ff" fill-opacity="0.3"/>
<polyline points="176.5,296.5 179.3,299.3 186.9,303.6" fill="none" stroke="#f27ad6" stroke-width="1.3" stroke-linejoin="round" stroke-linecap="butt" opacity="0.85"/>
<rect x="176" y="311.8" width="15.8" height="7.9" fill="#9ff" fill-opacity="0.3"/>
<polyline points="177.6,312.4 190.7,319.5" fill="none" stroke="#f27ad6" stroke-width="1.3" stroke-linejoin="round" stroke-linecap="butt" opacity="0.85"/>
<rect x="176" y="327.6" width="38.7" height="8.2" fill="#9ff" fill-opacity="0.3"/>
<polyline points="180.9,328.2 188.5,332 206,335.3" fill="none" stroke="#f27ad6" stroke-width="1.3" stroke-linejoin="round" stroke-linecap="butt" opacity="0.85"/>
<rect x="192.3" y="344.4" width="23.6" height="7.2" fill="#9ff" fill-opacity="0.3"/>
<polyline points="195,344.4 201.4,345.6 212.3,351.6" fill="none" stroke="#f27ad6" stroke-width="1.3" stroke-linejoin="round" stroke-linecap="butt" opacity="0.85"/>
<rect x="200.5" y="360.2" width="39" height="6.9" fill="#9ff" fill-opacity="0.3"/>
<polyline points="203.2,360.2 212.3,366.2 239.5,367.5" fill="none" stroke="#f27ad6" stroke-width="1.3" stroke-linejoin="round" stroke-linecap="butt" opacity="0.85"/>
<rect x="224.1" y="376.2" width="55.4" height="6.9" fill="#9ff" fill-opacity="0.3"/>
<polyline points="224.1,376.2 230.5,377 246.8,382.5 279.5,383.1" fill="none" stroke="#f27ad6" stroke-width="1.3" stroke-linejoin="round" stroke-linecap="butt" opacity="0.85"/>
<rect x="200.5" y="376.2" width="23.6" height="6.9" fill="#fcf" fill-opacity="0.25"/>
<polyline points="204.5,379.5 206.8,377 209,379.5" fill="none" stroke="#f7a8e4" stroke-width="1.0" stroke-linejoin="round" stroke-linecap="butt" />
<text x="246.4" y="377.8" font-family='"Liberation Serif", serif' font-size="14.8" fill="#111" textLength="58" lengthAdjust="spacingAndGlyphs"><tspan font-weight="bold">(a)</tspan> LC-RO</text>
<text x="246.4" y="761.9" font-family='"Liberation Serif", serif' font-size="14.8" fill="#111" textLength="58" lengthAdjust="spacingAndGlyphs"><tspan font-weight="bold">(b)</tspan> LO-RC</text>
</svg></body></html>
